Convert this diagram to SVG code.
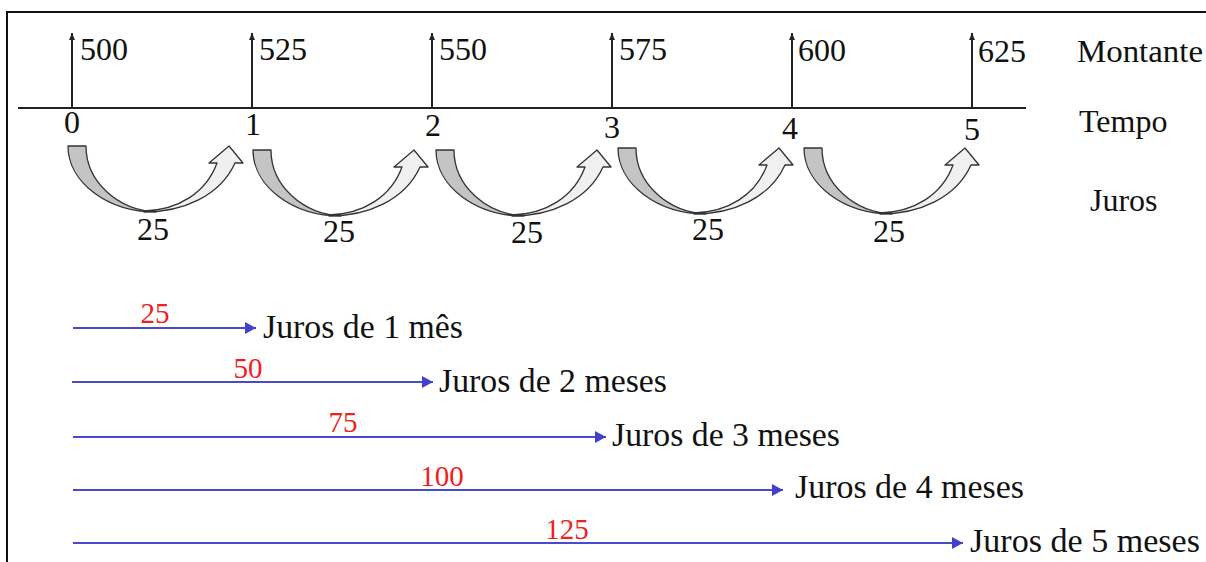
<svg xmlns="http://www.w3.org/2000/svg" width="1206" height="562" viewBox="0 0 1206 562">
<style>
.t{font-family:'Liberation Serif','Tinos','Times New Roman','Nimbus Roman','DejaVu Serif',serif;font-size:32px;fill:#111}
.j{font-size:33px}
.r{font-family:'Liberation Serif','Tinos','Times New Roman','Nimbus Roman','DejaVu Serif',serif;font-size:29px;fill:#f02020;text-anchor:middle}
.c{text-anchor:middle}
.ax{stroke:#222;stroke-width:2;fill:none}
.bl{stroke:#4848d0;stroke-width:2;fill:none}
.g{fill:#c4c4c4;stroke:#333;stroke-width:1.3;stroke-linejoin:round}
.w{fill:#f0f0f0;stroke:#333;stroke-width:1.3;stroke-linejoin:round}
</style>
<defs>
<marker id="up" markerWidth="8" markerHeight="8" refX="7" refY="3" orient="auto" markerUnits="userSpaceOnUse"><path d="M0,0 L7,3 L0,6 Z" fill="#222"/></marker>
<marker id="ba" markerWidth="12" markerHeight="14" refX="11" refY="6" orient="auto" markerUnits="userSpaceOnUse"><path d="M0,0 L11,6 L0,12 Z" fill="#4040cc"/></marker>
<g id="curl">
<path class="g" d="M0,0 L18,0 C18,36 50,64 88,66 C39,66 0,36 0,0 Z"/>
<path class="w" d="M76,66 C115,66 152,50 167,17 L175,17 L161,0 L141,17 L149,17 C138,47 110,64 76,65 Z"/>
</g>
</defs>
<rect x="7" y="12" width="1220" height="570" fill="none" stroke="#111" stroke-width="2"/>
<g id="connectors">
<line class="ax" x1="18" y1="108" x2="1026" y2="108"/>
<line class="ax" x1="72" y1="108" x2="72" y2="33" marker-end="url(#up)"/>
<line class="ax" x1="252" y1="108" x2="252" y2="33" marker-end="url(#up)"/>
<line class="ax" x1="432" y1="108" x2="432" y2="33" marker-end="url(#up)"/>
<line class="ax" x1="612" y1="108" x2="612" y2="33" marker-end="url(#up)"/>
<line class="ax" x1="792" y1="108" x2="792" y2="33" marker-end="url(#up)"/>
<line class="ax" x1="972" y1="108" x2="972" y2="33" marker-end="url(#up)"/>
<line class="bl" x1="73" y1="328" x2="256" y2="328" marker-end="url(#ba)"/>
<line class="bl" x1="72" y1="382" x2="433" y2="382" marker-end="url(#ba)"/>
<line class="bl" x1="73" y1="437" x2="606" y2="437" marker-end="url(#ba)"/>
<line class="bl" x1="73" y1="490" x2="783" y2="490" marker-end="url(#ba)"/>
<line class="bl" x1="73" y1="543" x2="963" y2="543" marker-end="url(#ba)"/>
</g>
<g id="montantes">
<text class="t" x="80" y="60">500</text>
<text class="t" x="259" y="60">525</text>
<text class="t" x="439" y="60">550</text>
<text class="t" x="619" y="60">575</text>
<text class="t" x="798" y="61">600</text>
<text class="t" x="978" y="62">625</text>
</g>
<g id="tempos">
<text class="t c" x="72" y="133">0</text>
<text class="t c" x="253" y="135">1</text>
<text class="t c" x="433" y="136">2</text>
<text class="t c" x="612" y="138">3</text>
<text class="t c" x="790" y="139">4</text>
<text class="t c" x="972" y="140">5</text>
</g>
<g id="legend">
<text class="t" x="1077" y="62" textLength="126" lengthAdjust="spacingAndGlyphs">Montante</text>
<text class="t" x="1079" y="132">Tempo</text>
<text class="t" x="1090" y="211">Juros</text>
</g>
<g id="curl1"><use href="#curl" transform="translate(68,146)"/><text class="t c" x="153" y="240">25</text></g>
<g id="curl2"><use href="#curl" transform="translate(253,150)"/><text class="t c" x="339" y="242">25</text></g>
<g id="curl3"><use href="#curl" transform="translate(436,150)"/><text class="t c" x="527" y="243">25</text></g>
<g id="curl4"><use href="#curl" transform="translate(618,148)"/><text class="t c" x="708" y="240">25</text></g>
<g id="curl5"><use href="#curl" transform="translate(804,148)"/><text class="t c" x="889" y="242">25</text></g>
<g id="row1"><text class="r" x="155" y="323">25</text><text class="t j" x="263" y="338" textLength="200" lengthAdjust="spacingAndGlyphs">Juros de 1 mês</text></g>
<g id="row2"><text class="r" x="248" y="378">50</text><text class="t j" x="439" y="392" textLength="228" lengthAdjust="spacingAndGlyphs">Juros de 2 meses</text></g>
<g id="row3"><text class="r" x="343" y="432">75</text><text class="t j" x="612" y="446" textLength="228" lengthAdjust="spacingAndGlyphs">Juros de 3 meses</text></g>
<g id="row4"><text class="r" x="442" y="486">100</text><text class="t j" x="795" y="498" textLength="229" lengthAdjust="spacingAndGlyphs">Juros de 4 meses</text></g>
<g id="row5"><text class="r" x="567" y="539">125</text><text class="t j" x="970" y="552" textLength="230" lengthAdjust="spacingAndGlyphs">Juros de 5 meses</text></g>
</svg>
